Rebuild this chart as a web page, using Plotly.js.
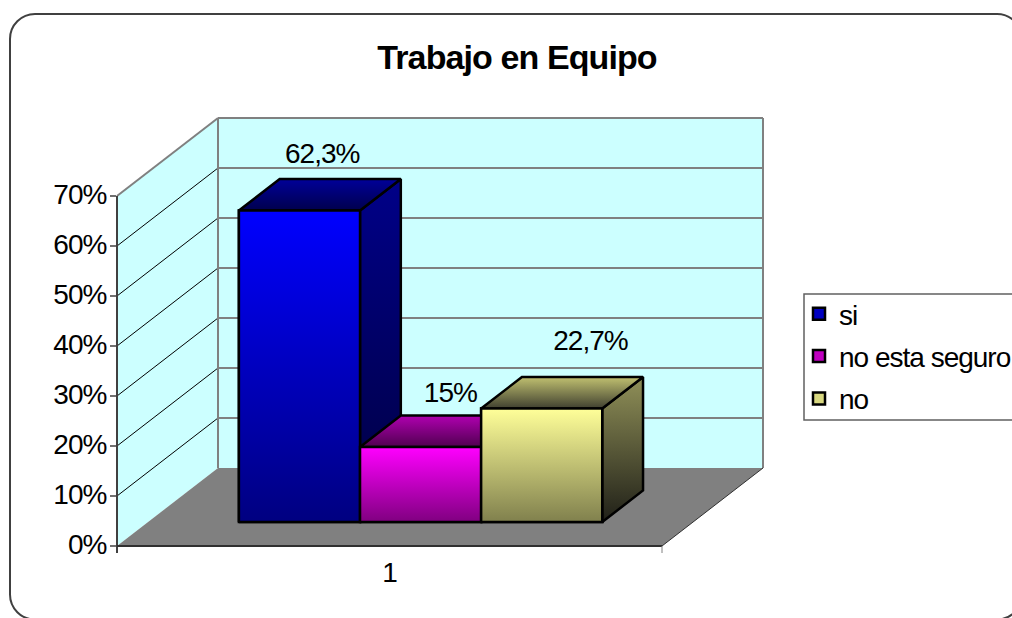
<!DOCTYPE html>
<html>
<head>
<meta charset="utf-8">
<script src="https://cdn.plot.ly/plotly-3.0.1.min.js"></script>
<style>
html,body{margin:0;padding:0;background:#fff;overflow:hidden}
svg text{letter-spacing:-1px}
svg text.gtitle{letter-spacing:-.9px}
</style>
</head>
<body>
<div id="chart" style="width:1012px;height:618px"></div>
<script>
// ---- data ----
const seriesNames = ['si', 'no esta seguro', 'no'];
const seriesValues = [62.3, 15, 22.7];
const valueLabels = ['62,3%', '15%', '22,7%'];
const categoryValue = [1];
const categoryLabels = ['1'];
const yTicks = [0, 10, 20, 30, 40, 50, 60, 70];
const yTickLabels = ['0%', '10%', '20%', '30%', '40%', '50%', '60%', '70%'];

// ---- styles ----
const FONT = 'Liberation Sans, Arial, sans-serif';
const swatch = ['#0000c0', '#c000c0', '#d8d880'];
const frontGrad = [['#0000ff', '#000080'], ['#ff00ff', '#800080'], ['#ffff99', '#80804d']];
const topGrad = [['#000099', '#00004d'], ['#b000b0', '#500050'], ['#c0c070', '#404030']];
const sideGrad = [['#000088', '#000040'], ['#880088', '#400040'], ['#909058', '#202018']];
const labelNudgePx = [[-18, -23], [-11, -21], [8, -34]];

// ---- plot frame and oblique projection ----
const M = {l: 117, r: 248, t: 118, b: 72, autoexpand: false};
const plotW = 1012 - M.l - M.r, plotH = 618 - M.t - M.b;
const pxPerCat = 545, pxPerUnit = 5;
const xMin = 0.5, xSpan = plotW / pxPerCat, yMax = plotH / pxPerUnit;
const depthU = 101 / pxPerCat, depthV = 78 / pxPerUnit;
const d0 = 24 / 78, d1 = 55.5 / 78;       // front and back planes of the bars
const barW = 2 / 9, firstBar = xMin + 1 / 6;

const proj = (u, v, d) => [u + d * depthU, v + d * depthV];
const px = p => (p[0] - xMin) / xSpan;
const py = p => p[1] / yMax;
const pathOf = pts => 'M' + pts.map(p => px(p) + ',' + py(p)).join('L') + 'Z';
const lineOf = (a, b, color, width) => ({type: 'line', layer: 'below', xref: 'paper', yref: 'paper',
  x0: px(a), y0: py(a), x1: px(b), y1: py(b), line: {color, width}});
const polyOf = (pts, fill) => ({type: 'path', layer: 'below', xref: 'paper', yref: 'paper',
  path: pathOf(pts), fillcolor: fill, line: {width: 0}});

// ---- walls, floor, gridlines ----
const xL = xMin, xR = xMin + 1, yTop = 70;
const shapes = [
  polyOf([proj(xL, 0, 0), proj(xL, yTop, 0), proj(xL, yTop, 1), proj(xL, 0, 1)], '#ccffff'),
  polyOf([proj(xL, 0, 1), proj(xL, yTop, 1), proj(xR, yTop, 1), proj(xR, 0, 1)], '#ccffff'),
  polyOf([proj(xL, 0, 0), proj(xR, 0, 0), proj(xR, 0, 1), proj(xL, 0, 1)], '#808080')
];
yTicks.slice(1).forEach(v => {
  const w = v === yTop ? 2 : 1;
  shapes.push(lineOf(proj(xL, v, 0), proj(xL, v, 1), v === yTop ? '#808080' : '#000000', w));
  shapes.push(lineOf(proj(xL, v, 1), proj(xR, v, 1), '#808080', 2));
});
shapes.push(lineOf(proj(xL, 0, 1), proj(xL, yTop, 1), '#808080', 2));
shapes.push(lineOf(proj(xR, 0, 1), proj(xR, yTop, 1), '#808080', 2));
shapes.push(lineOf(proj(xR, 0, 0), proj(xR, 0, 1), '#303030', 1));
shapes.push(lineOf(proj(xL, -1.4, 0), proj(xL, yTop, 0), '#404040', 2));
shapes.push(lineOf(proj(xL, 0, 0), proj(xR, 0, 0), '#303030', 2));
shapes.push(lineOf(proj(xR, 0, 0), proj(xR, -1.4, 0), '#808080', 1));

// chart-area frame and legend box (page pixels to paper)
const pageX = x => (x - M.l) / plotW, pageY = y => (618 - M.b - y) / plotH;
shapes.push({type: 'path', layer: 'below', xref: 'paper', yref: 'paper', line: {color: '#404040', width: 2},
  path: (() => {
    const l = 10, r = 1022, t = 14, b = 619.5, q = 25, k = q * 0.4477;
    const P = (x, y) => pageX(x) + ',' + pageY(y);
    return 'M' + P(l + q, t) + 'L' + P(r - q, t) +
      'C' + P(r - k, t) + ' ' + P(r, t + k) + ' ' + P(r, t + q) +
      'L' + P(r, b - q) + 'C' + P(r, b - k) + ' ' + P(r - k, b) + ' ' + P(r - q, b) +
      'L' + P(l + q, b) + 'C' + P(l + k, b) + ' ' + P(l, b - k) + ' ' + P(l, b - q) +
      'L' + P(l, t + q) + 'C' + P(l, t + k) + ' ' + P(l + k, t) + ' ' + P(l + q, t) + 'Z';
  })()});
shapes.push({type: 'rect', layer: 'below', xref: 'paper', yref: 'paper',
  x0: pageX(804), x1: pageX(1030), y0: pageY(420), y1: pageY(294),
  fillcolor: '#ffffff', line: {color: '#606060', width: 1.5}});

// ---- traces ----
const traces = [];
seriesValues.forEach((val, i) => {
  traces.push({type: 'bar', name: seriesNames[i], legendgroup: 'g' + i,
    x: categoryValue, y: [val], base: [d0 * depthV],
    width: [barW], offset: [firstBar + i * barW + d0 * depthU - categoryValue[0]],
    marker: {color: swatch[i], line: {color: '#000000', width: 2.5}}, hoverinfo: 'skip'});
});
const face = (pts, grad) => ({type: 'scatter', mode: 'lines', showlegend: false, hoverinfo: 'skip',
  x: pts.concat([pts[0]]).map(p => p[0]), y: pts.concat([pts[0]]).map(p => p[1]),
  fill: 'toself', line: {color: '#000000', width: 2.5},
  fillgradient: {type: 'vertical', colorscale: [[0, grad[1]], [1, grad[0]]]}});
seriesValues.forEach((val, i) => {
  const a = firstBar + i * barW, b = a + barW;
  traces.push(face([proj(b, 0, d0), proj(b, val, d0), proj(b, val, d1), proj(b, 0, d1)], sideGrad[i]));
  traces.push(face([proj(a, val, d0), proj(b, val, d0), proj(b, val, d1), proj(a, val, d1)], topGrad[i]));
});
seriesValues.forEach((val, i) => {
  const a = firstBar + i * barW, b = a + barW;
  traces.push(face([proj(a, 0, d0), proj(b, 0, d0), proj(b, val, d0), proj(a, val, d0)], frontGrad[i]));
});
const labelPts = seriesValues.map((val, i) => proj(firstBar + (i + 0.5) * barW, val, d1));
traces.push({type: 'scatter', mode: 'text', showlegend: false, hoverinfo: 'skip', cliponaxis: false,
  x: labelPts.map((p, i) => p[0] + labelNudgePx[i][0] / pxPerCat),
  y: labelPts.map((p, i) => p[1] - labelNudgePx[i][1] / pxPerUnit),
  text: valueLabels, textposition: 'middle center',
  textfont: {family: FONT, size: 28, color: '#000000'}});

const layout = {
  width: 1012, height: 618, margin: M, autosize: false,
  paper_bgcolor: 'rgba(0,0,0,0)', plot_bgcolor: 'rgba(0,0,0,0)',
  font: {family: FONT, color: '#000000'},
  title: {text: 'Trabajo en Equipo', x: 517 / 1012, xanchor: 'center', y: 1 - 57 / 618, yanchor: 'middle',
    font: {family: FONT, size: 34, weight: 700, color: '#000000'}},
  barmode: 'overlay',
  xaxis: {range: [xMin, xMin + xSpan], tickmode: 'array', tickvals: categoryValue, ticktext: categoryLabels,
    ticks: 'outside', ticklen: 1, tickcolor: 'rgba(0,0,0,0)', showgrid: false, zeroline: false, showline: false,
    tickfont: {family: FONT, size: 28, color: '#000000'}, fixedrange: true},
  yaxis: {range: [0, yMax], tickmode: 'array', tickvals: yTicks, ticktext: yTickLabels,
    ticks: 'outside', ticklen: 6, tickwidth: 2, tickcolor: '#707070', showgrid: false, zeroline: false, showline: false,
    ticklabelshift: -2, ticklabelstandoff: -2,
    tickfont: {family: FONT, size: 28, color: '#000000'}, fixedrange: true},
  showlegend: true,
  legend: {x: pageX(799), xanchor: 'left', y: pageY(289), yanchor: 'top', bgcolor: 'rgba(0,0,0,0)', borderwidth: 0,
    tracegroupgap: 3, font: {family: FONT, size: 28, color: '#000000'}},
  shapes
};
Plotly.newPlot('chart', traces, layout, {displayModeBar: false, staticPlot: true});
</script>
</body>
</html>
